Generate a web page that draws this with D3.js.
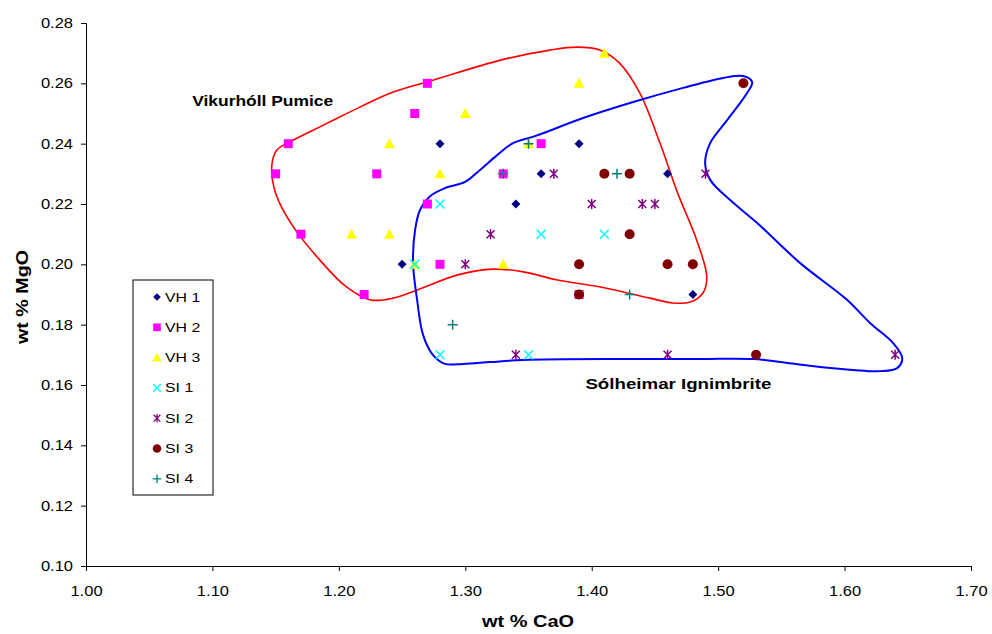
<!DOCTYPE html>
<html><head><meta charset="utf-8">
<script src="https://cdn.jsdelivr.net/npm/d3@7"></script>
<style>body{margin:0;background:#fff}svg{display:block}text{font-family:"Liberation Sans",Arial,sans-serif}</style>
</head><body><svg id="c" width="992" height="634"></svg>
<script>
const xTicks = [1.00,1.10,1.20,1.30,1.40,1.50,1.60,1.70];
const yTicks = [0.10,0.12,0.14,0.16,0.18,0.20,0.22,0.24,0.26,0.28];
const seriesNames = ["VH 1","VH 2","VH 3","SI 1","SI 2","SI 3","SI 4"];
const vh1 = [[1.28,0.24],[1.39,0.24],[1.36,0.23],[1.46,0.23],[1.34,0.22],[1.25,0.20],[1.48,0.19]];
const vh2 = [[1.27,0.26],[1.26,0.25],[1.16,0.24],[1.36,0.24],[1.15,0.23],[1.23,0.23],[1.33,0.23],[1.27,0.22],[1.17,0.21],[1.28,0.20],[1.22,0.19],[1.39,0.19]];
const vh3 = [[1.41,0.27],[1.39,0.26],[1.30,0.25],[1.24,0.24],[1.35,0.24],[1.28,0.23],[1.21,0.21],[1.24,0.21],[1.26,0.20],[1.33,0.20]];
const si1 = [[1.28,0.22],[1.36,0.21],[1.41,0.21],[1.26,0.20],[1.28,0.17],[1.35,0.17]];
const si2 = [[1.37,0.23],[1.49,0.23],[1.40,0.22],[1.44,0.22],[1.45,0.22],[1.32,0.21],[1.30,0.20],[1.34,0.17],[1.46,0.17],[1.64,0.17]];
const si3 = [[1.52,0.26],[1.41,0.23],[1.43,0.23],[1.43,0.21],[1.39,0.20],[1.46,0.20],[1.48,0.20],[1.39,0.19],[1.53,0.17]];
const si4 = [[1.35,0.24],[1.33,0.23],[1.42,0.23],[1.43,0.19],[1.29,0.18]];
// hand-drawn envelopes, in data units (CaO, MgO)
const vikurEnvelope = [[1.147,0.2329],[1.151,0.2379],[1.164,0.2412],[1.191,0.2468],[1.217,0.2522],[1.243,0.2571],[1.275,0.2611],[1.328,0.2677],[1.367,0.2710],[1.388,0.2720],[1.407,0.2710],[1.422,0.2667],[1.438,0.2568],[1.454,0.2402],[1.468,0.2236],[1.483,0.2081],[1.491,0.1958],[1.488,0.1905],[1.478,0.1875],[1.464,0.1872],[1.446,0.1888],[1.407,0.1925],[1.373,0.1948],[1.346,0.1975],[1.322,0.1984],[1.294,0.1965],[1.262,0.1915],[1.243,0.1888],[1.225,0.1882],[1.206,0.1925],[1.185,0.2014],[1.164,0.2124],[1.150,0.2236]];
const solEnvelope = [[1.2619,0.1882],[1.2587,0.2004],[1.2603,0.2114],[1.2642,0.2180],[1.2722,0.2226],[1.2840,0.2253],[1.2998,0.2273],[1.3117,0.2313],[1.3252,0.2362],[1.3378,0.2402],[1.3552,0.2425],[1.3932,0.2485],[1.4328,0.2538],[1.4723,0.2585],[1.5040,0.2618],[1.5198,0.2624],[1.5269,0.2604],[1.5229,0.2568],[1.5071,0.2478],[1.4937,0.2402],[1.4897,0.2336],[1.4937,0.2280],[1.5095,0.2213],[1.5309,0.2137],[1.5649,0.2004],[1.6021,0.1882],[1.6203,0.1805],[1.6384,0.1739],[1.6456,0.1689],[1.6416,0.1656],[1.6282,0.1646],[1.6068,0.1650],[1.5807,0.1660],[1.5546,0.1673],[1.5277,0.1686],[1.4858,0.1686],[1.4304,0.1686],[1.3457,0.1683],[1.3196,0.1676],[1.2983,0.1670],[1.2840,0.1670],[1.2745,0.1699],[1.2666,0.1766]];
const envelopeLabels = [["Vikurhóll Pumice",1.084,0.2525,141],["Sólheimar Ignimbrite",1.395,0.1587,186]];

const svg = d3.select("#c");
const x = d3.scaleLinear().domain([1.0,1.7]).range([86,971]);
const y = d3.scaleLinear().domain([0.10,0.28]).range([566,23]);

// axes
const xa = svg.append("g").attr("transform","translate(0,566)")
  .call(d3.axisBottom(x).tickValues(xTicks).tickFormat(d3.format(".2f")).tickSize(5).tickPadding(15));
const ya = svg.append("g").attr("transform","translate(86,0)")
  .call(d3.axisLeft(y).tickValues(yTicks).tickFormat(d3.format(".2f")).tickSize(5).tickPadding(6));
[xa,ya].forEach(g=>{
  g.select(".domain").attr("stroke","#000").attr("stroke-width",1);
  g.selectAll(".tick line").attr("stroke","#000");
  g.selectAll(".tick text").attr("font-size",14).attr("fill","#000")
    .attr("font-family","'Liberation Sans',Arial,sans-serif").attr("transform","scale(1.18,1)");
});
svg.append("text").attr("x",528).attr("y",627).attr("text-anchor","middle").attr("font-size",16).attr("font-weight","bold")
  .attr("textLength",92).attr("lengthAdjust","spacingAndGlyphs").text("wt % CaO");
svg.append("text").attr("transform","translate(28,297) rotate(-90)").attr("text-anchor","middle").attr("font-size",16).attr("font-weight","bold")
  .attr("textLength",94).attr("lengthAdjust","spacingAndGlyphs").text("wt % MgO");

// envelopes
const line = d3.line().x(d=>x(d[0])).y(d=>y(d[1])).curve(d3.curveCatmullRomClosed.alpha(0.5));
svg.append("path").attr("d",line(vikurEnvelope)).attr("fill","none").attr("stroke","#FF0000").attr("stroke-width",1.6);
svg.append("path").attr("d",line(solEnvelope)).attr("fill","none").attr("stroke","#0000FF").attr("stroke-width",2);
svg.selectAll("text.lab").data(envelopeLabels).enter().append("text").attr("class","lab")
  .attr("x",d=>x(d[1])).attr("y",d=>y(d[2])).attr("font-size",15.5).attr("font-weight","bold")
  .attr("textLength",d=>d[3]).attr("lengthAdjust","spacingAndGlyphs").text(d=>d[0]);

// markers
function drawMarker(g, type, color){
  if(type==="diamond") g.append("path").attr("d","M0,-4.5L4.5,0L0,4.5L-4.5,0Z").attr("fill",color);
  else if(type==="square") g.append("rect").attr("x",-4.5).attr("y",-4.5).attr("width",9).attr("height",9).attr("fill",color);
  else if(type==="triangle") g.append("path").attr("d","M0,-5.5L5.5,4.5L-5.5,4.5Z").attr("fill",color);
  else if(type==="x") g.append("path").attr("d","M-4.5,-4.5L4.5,4.5M-4.5,4.5L4.5,-4.5").attr("stroke",color).attr("stroke-width",1.5);
  else if(type==="star") g.append("path").attr("d","M-4,-4L4,4M-4,4L4,-4M0,-5L0,5").attr("stroke",color).attr("stroke-width",1.5);
  else if(type==="circle") g.append("circle").attr("r",5).attr("fill",color);
  else if(type==="plus") g.append("path").attr("d","M-5,0L5,0M0,-5L0,5").attr("stroke",color).attr("stroke-width",1.5);
}
const series = [
  {data:vh1,type:"diamond",color:"#000080"},
  {data:vh2,type:"square",color:"#FF00FF"},
  {data:vh3,type:"triangle",color:"#FFFF00"},
  {data:si1,type:"x",color:"#00FFFF"},
  {data:si2,type:"star",color:"#800080"},
  {data:si3,type:"circle",color:"#800000"},
  {data:si4,type:"plus",color:"#008080"}
];
series.forEach(s=>{
  s.data.forEach(p=>{
    const g = svg.append("g").attr("transform",`translate(${x(p[0])},${y(p[1])})`);
    drawMarker(g,s.type,s.color);
  });
});

// legend
const lg = svg.append("g").attr("transform","translate(133,280)");
lg.append("rect").attr("x",0).attr("y",0).attr("width",80).attr("height",215).attr("fill","#fff").attr("stroke","#000").attr("stroke-width",1);
series.forEach((s,i)=>{
  const gy = 17 + i*30.3;
  const g = lg.append("g").attr("transform",`translate(24,${gy})`);
  drawMarker(g,s.type,s.color);
  g.select("*").attr("transform","scale(0.85)");
  lg.append("text").attr("transform",`translate(32,${gy+4.5}) scale(1.22,1)`).attr("font-size",13).text(seriesNames[i]);
});
</script></body></html>
